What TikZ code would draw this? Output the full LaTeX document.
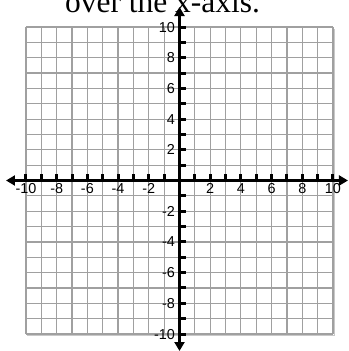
\documentclass[tikz,border=0pt]{standalone}
\usepackage{fontspec}
\setmainfont{Liberation Serif}
\newfontfamily\tickfont{Liberation Sans}
\usetikzlibrary{arrows.meta}
\tikzset{every picture/.style={line width=0.75pt}}
\tikzset{
  gridline/.style={color={rgb, 255:red, 160; green, 160; blue, 160 }, line width=0.9},
  axisline/.style={color=black, line width=2.25, {Triangle[length=6.75,width=7.5]}-{Triangle[length=6.75,width=7.5]}},
  tickmark/.style={color=black, line width=2.25},
  ticklabel/.style={inner sep=0pt, font=\tickfont\fontsize{10.8}{12}\selectfont}
}

\begin{document}
\begin{tikzpicture}[x=0.75pt,y=0.75pt,yscale=-1,xscale=1]
\useasboundingbox (0,0) rectangle (349,351);
\def\cell{15.35}

% Text Node
\draw (162.5,12) node [anchor=base][inner sep=0.75pt] [font=\fontsize{23.6}{28}\selectfont] (title) {over the x-axis.};

%Shape: Grid shadow
\draw [color={rgb, 255:red, 200; green, 200; blue, 200 }, line width=0.9] (27.5,335.6) -- (334.5,335.6) -- (334.5,28.5);
%Shape: Grid
\foreach \k in {-10,...,10}{
  \draw [gridline] ({179.5+\k*\cell},26.85) -- ({179.5+\k*\cell},334.15);
  \draw [gridline] (26,{180.5+\k*\cell}) -- (333,{180.5+\k*\cell});
}

%Axes
\coordinate (xleft) at (6,180.5);
\coordinate (xright) at (348,180.5);
\coordinate (ytop) at (179.5,7);
\coordinate (ybottom) at (179.5,351);
\draw [axisline] (xleft) -- (xright);
\draw [axisline] (ybottom) -- (ytop);

%Ticks
\foreach \k in {-10,...,-1,1,2,...,10}{
  \draw [tickmark] ({179.5+\k*\cell},180.5) -- ++(0,-7);
  \draw [tickmark] (179.5,{180.5+\k*\cell}) -- ++(6.5,0);
}

% Text Node
\foreach \k [count=\i] in {-10,-8,...,-2,2,4,...,10}{
  \node [ticklabel, anchor=base] (xlab\i) at ({179.5+\k*\cell},193.5) {\k};
  \node [ticklabel, anchor=base east] (ylab\i) at (175.5,{180.5-\k*\cell+5}) {\k};
}

\end{tikzpicture}
\end{document}
